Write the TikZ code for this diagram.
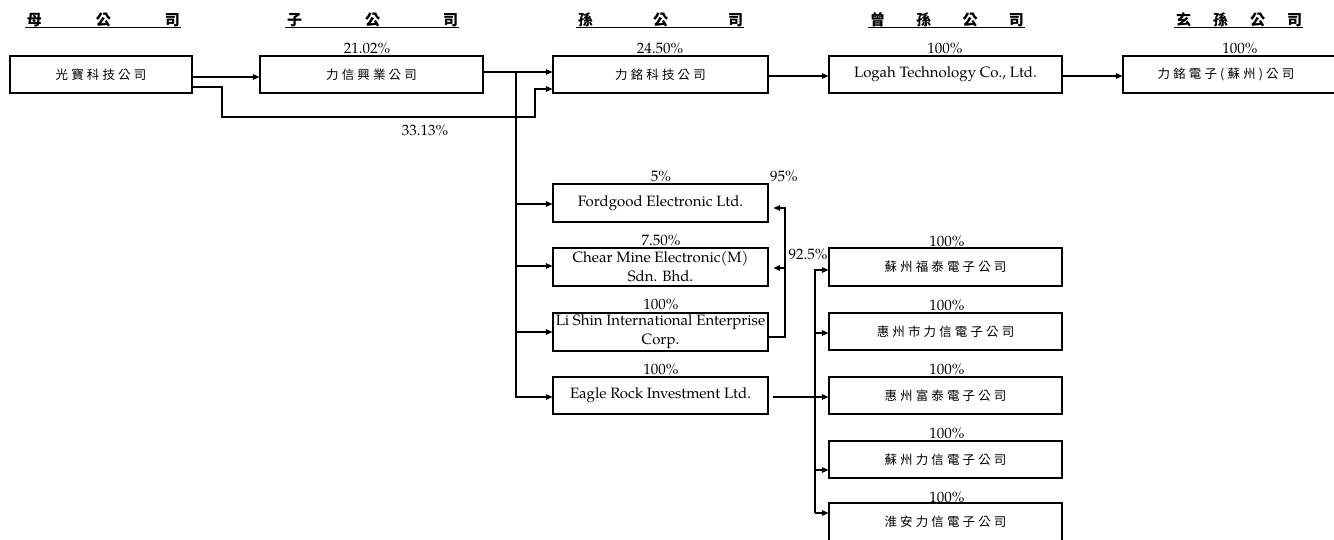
\documentclass[tikz,border=0pt]{standalone}
\usepackage{fontspec}
\setmainfont{texgyrepagella-regular.otf}[BoldFont=texgyrepagella-bold.otf]
\newfontfamily\cjk{Noto Sans CJK TC}[LetterSpace=25]
\newfontfamily\cjkh{Noto Sans CJK TC}
\usetikzlibrary{arrows.meta,calc}
\begin{document}
\begin{tikzpicture}[x=1pt,y=-1pt,
  box/.style={draw, line width=1.1pt, inner sep=0pt, align=center,
    font=\fontsize{15}{19}\selectfont},
  cbox/.style={box, font=\cjk\fontsize{12.5}{14}\selectfont},
  conn/.style={line width=1.1pt, -{Triangle[length=6.5pt,width=5.5pt]}},
  line/.style={line width=1.1pt},
  pct/.style={inner sep=0pt, font=\fontsize{15}{16}\selectfont},
  hdr/.style={inner sep=0pt, font=\cjkh\bfseries\fontsize{15}{16}\selectfont},
]
\useasboundingbox (0,0) rectangle (1334,540);

% headers
\node[hdr, text width=153pt] (h1) at (103.5,20) {母\hfill 公\hfill 司};
\node[hdr, text width=171pt] (h2) at (372.5,20) {子\hfill 公\hfill 司};
\node[hdr, text width=165pt] (h3) at (660.5,20) {孫\hfill 公\hfill 司};
\node[hdr, text width=154pt] (h4) at (947,20) {曾\hfill 孫\hfill 公\hfill 司};
\node[hdr, text width=126pt] (h5) at (1239,20) {玄\hfill 孫\hfill 公\hfill 司};
\foreach \h in {h1,h2,h3,h4,h5}
  \draw[line] ($(\h.west)+(-2,7.5)$) -- ($(\h.east)+(1,7.5)$);

% top row
\node[cbox, minimum width=182pt, minimum height=37pt] (A) at (101,74.5) {光寶科技公司};
\node[cbox, minimum width=223pt, minimum height=37pt] (B) at (371.5,74.5) {力信興業公司};
\node[cbox, minimum width=215pt, minimum height=37pt] (C) at (660.5,74.5) {力銘科技公司};
\node[box, minimum width=233pt, minimum height=37pt] (D) at (945.5,74.5) {Logah Technology Co., Ltd.};
\node[cbox, minimum width=220pt, minimum height=37pt] (E) at (1233,74.5) {};
\node[inner sep=0pt, font=\cjk\fontsize{12.5}{14}\selectfont] (Et) at (1226,74.5) {力銘電子(蘇州)公司};

% middle column
\node[box, minimum width=215pt, minimum height=38pt] (F) at (660.5,203) {Fordgood Electronic Ltd.};
\node[box, minimum width=215pt, minimum height=38pt] (G) at (660.5,267) {Chear Mine Electronic(M)\\Sdn. Bhd.};
\node[box, minimum width=215pt, minimum height=38pt] (H) at (660.5,332) {Li Shin International Enterprise\\Corp.};
\node[box, minimum width=215pt, minimum height=37pt] (I) at (660.5,395.5) {Eagle Rock Investment Ltd.};

% right column
\node[cbox, minimum width=233pt, minimum height=38pt] (J) at (945.5,267) {蘇州福泰電子公司};
\node[cbox, minimum width=233pt, minimum height=37pt] (K) at (945.5,331.5) {惠州市力信電子公司};
\node[cbox, minimum width=233pt, minimum height=37pt] (L) at (945.5,395.5) {惠州富泰電子公司};
\node[cbox, minimum width=233pt, minimum height=37pt] (M) at (945.5,459.5) {蘇州力信電子公司};
\node[cbox, minimum width=233pt, minimum height=44pt] (N) at (945.5,525) {};
\node[inner sep=0pt, font=\cjk\fontsize{12.5}{14}\selectfont] (Nt) at (945.5,521.5) {淮安力信電子公司};

% percentages
\node[pct] (p1) at (367,48) {21.02\%};
\node[pct] (p2) at (660,48) {24.50\%};
\node[pct] (p3) at (945,48) {100\%};
\node[pct] (p4) at (1240,48) {100\%};
\node[pct] (p5) at (425,130) {33.13\%};
\node[pct] (p6) at (661,176) {5\%};
\node[pct] (p7) at (784,176) {95\%};
\node[pct] (p8) at (661,240) {7.50\%};
\node[pct] (p9) at (808,254) {92.5\%};
\node[pct] (p10) at (661,304) {100\%};
\node[pct] (p11) at (661,369) {100\%};
\node[pct] (p12) at (947,241) {100\%};
\node[pct] (p13) at (947,305) {100\%};
\node[pct] (p14) at (947,369) {100\%};
\node[pct] (p15) at (947,433) {100\%};
\node[pct] (p16) at (947,497) {100\%};

% connectors top
\draw[conn] (A.east |- 0,77) -- (B.west |- 0,77);
\draw[conn] (A.east |- 0,87) -- (222,87) -- (222,117) -- (535,117) -- (535,89) -- (C.west |- 0,89);
\draw[conn] (B.east |- 0,72) -- (C.west |- 0,72);
\draw[conn] (C.east |- 0,76) -- (D.west |- 0,76);
\draw[conn] (D.east |- 0,76) -- (E.west |- 0,76);

% trunk to middle column
\draw[conn] (516,72) |- (F.west |- 0,204);
\draw[conn] (516,72) |- (G.west |- 0,266);
\draw[conn] (516,72) |- (H.west |- 0,332);
\draw[conn] (516,72) |- (I.west |- 0,397);

% Li Shin holdings
\draw[conn] (H.east |- 0,337) -| (785,208) -- ($(F.east |- 0,208)+(5,0)$);
\draw[conn] (785,268) -- ($(G.east |- 0,268)+(5,0)$);

% Eagle Rock holdings
\draw[conn] ($(I.east |- 0,397)+(4,0)$) -- (L.west |- 0,397);
\draw[conn] (815,513) |- (J.west |- 0,270);
\draw[conn] (815,513) |- (K.west |- 0,333);
\draw[conn] (815,513) |- (M.west |- 0,470);
\draw[conn] (815,513) -- (N.west |- 0,513);
\end{tikzpicture}
\end{document}
